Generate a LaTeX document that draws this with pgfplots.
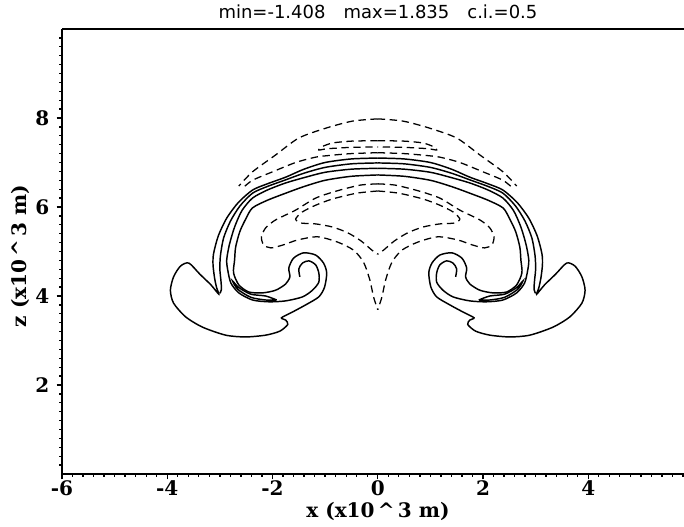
\documentclass[border=0pt]{standalone}
\usepackage{pgfplots}
\pgfplotsset{compat=1.18}
\usepackage{pgfplotstable}
\usepackage{fontspec}
\setmainfont{DejaVu Serif}
\newfontfamily\titlefont{DejaVu Sans}

% right half of each contour (x >= 0); the left half is its mirror image
% dashed: negative levels
\pgfplotstableread{
x z
0 7.98
0.48 7.93
0.99 7.77
1.50 7.55
1.94 7.17
2.38 6.79
2.64 6.47
}\dashA
\pgfplotstableread{
x z
0 7.49
0.5 7.48
0.85 7.44
1.05 7.36
1.12 7.28
0.95 7.31
0.5 7.34
0 7.35
}\dashB
\pgfplotstableread{
x z
0 7.22
0.5 7.20
0.9 7.16
1.18 7.12
1.56 7.00
2.0 6.79
2.38 6.60
2.57 6.42
}\dashC
\pgfplotstableread{
x z
0 6.52
0.34 6.49
0.78 6.36
1.18 6.20
1.56 5.93
1.94 5.71
2.13 5.53
2.21 5.33
2.17 5.15
2.03 5.08
1.79 5.15
1.52 5.26
1.14 5.33
0.76 5.21
0.46 5.03
0.27 4.76
0.15 4.36
0.08 3.98
0 3.69
}\dashD
\pgfplotstableread{
x z
0 6.36
0.40 6.31
0.86 6.18
1.18 6.04
1.43 5.89
1.56 5.73
1.46 5.64
1.18 5.62
0.86 5.55
0.57 5.42
0.32 5.24
0.11 5.03
0 4.94
}\dashE
% solid: positive levels
\pgfplotstableread{
x z
0 7.10
0.5 7.08
1.0 7.00
1.4 6.85
1.75 6.67
2.1 6.52
2.38 6.38
2.65 6.10
2.87 5.75
3.03 5.35
3.12 4.95
3.13 4.70
3.10 4.40
3.06 4.18
3.02 4.04
3.17 4.25
3.38 4.49
3.59 4.74
3.75 4.67
3.88 4.43
3.94 4.13
3.88 3.84
3.65 3.53
3.33 3.30
2.89 3.12
2.51 3.08
2.13 3.12
1.86 3.21
1.71 3.36
1.75 3.46
1.83 3.51
1.62 3.64
1.37 3.80
1.12 3.98
1.01 4.20
0.97 4.52
1.03 4.74
1.18 4.92
1.41 4.97
1.60 4.85
1.69 4.63
1.67 4.43
1.75 4.27
1.94 4.13
2.19 4.07
2.45 4.09
2.64 4.25
2.74 4.52
2.72 4.81
2.70 5.10
2.62 5.45
2.50 5.75
2.38 5.98
2.1 6.15
1.75 6.31
1.4 6.46
1.0 6.60
0.5 6.69
0 6.72
}\solA
\pgfplotstableread{
x z
0 6.87
0.5 6.85
1.0 6.78
1.4 6.66
1.75 6.54
2.1 6.38
2.38 6.20
2.58 5.92
2.72 5.55
2.82 5.15
2.87 4.81
2.85 4.58
2.79 4.29
2.64 4.07
2.38 3.91
2.07 3.87
1.75 3.89
1.43 3.98
1.24 4.13
1.12 4.31
1.12 4.52
1.18 4.70
1.31 4.79
1.43 4.74
1.50 4.61
1.48 4.43
}\solB
\pgfplotstableread{
x z
0 6.99
0.5 6.97
1.0 6.89
1.4 6.76
1.75 6.61
2.1 6.46
2.38 6.31
2.62 6.02
2.80 5.68
2.93 5.30
2.99 4.90
3.00 4.60
2.98 4.35
2.97 4.15
3.00 4.06
}\solC
\pgfplotstableread{
x z
1.92 3.91
2.13 4.00
2.41 4.04
2.64 4.19
2.76 4.34
2.66 4.15
2.41 3.97
2.13 3.91
1.92 3.91
}\solD

\begin{document}
\begin{tikzpicture}
\begin{axis}[
  scale only axis, width=466.5pt, height=333.75pt,
  xmin=-6, xmax=5.82, ymin=0, ymax=10,
  axis x line=bottom, axis y line=left,
  axis line style={-, line width=1.4pt},
  xtick={-6,-4,-2,0,2,4}, ytick={2,4,6,8},
  xticklabels={-6,-4,-2,0,2,4}, yticklabels={2,4,6,8},
  minor xtick={-5.8,-5.6,...,5.8}, minor ytick={0.2,0.4,...,9.8},
  tick align=outside, major tick length=4pt, minor tick length=2pt,
  every tick/.style={black, line width=1pt},
  tick label style={font=\fontsize{15}{17}\selectfont\bfseries},
  xticklabel style={yshift=2.5pt},
  yticklabel style={xshift=-2pt},
  xlabel={x (x10\,\textasciicircum\,3 m)},
  ylabel={z (x10\,\textasciicircum\,3 m)},
  every axis x label/.style={at={(axis description cs:0.508,0)}, anchor=base, yshift=-32.5pt,
    font=\fontsize{15}{17}\selectfont\bfseries},
  every axis y label/.style={at={(axis description cs:-0.066,0.49)}, rotate=90, anchor=center,
    font=\fontsize{15}{17}\selectfont\bfseries},
  title={min=-1.408\quad max=1.835\quad c.i.=0.5},
  every axis title/.style={at={(axis description cs:0.508,1)}, anchor=base, yshift=7.5pt,
    font=\titlefont\fontsize{13.5}{16}\selectfont},
  clip=false,
  cont/.style={black, line width=1.1pt, smooth, tension=0.45},
  neg/.style={black, line width=0.95pt, dash pattern=on 5.5pt off 3.5pt, smooth, tension=0.45},
]
\coordinate (ll) at (rel axis cs:0,0);
\coordinate (ur) at (rel axis cs:1,1);
\draw[line width=1.4pt] (rel axis cs:0,1) -- (rel axis cs:1,1);
\addplot[neg] table {\dashA};
\addplot[neg] table[x expr=-\thisrow{x}] {\dashA};
\addplot[neg] table {\dashB};
\addplot[neg] table[x expr=-\thisrow{x}] {\dashB};
\addplot[neg] table {\dashC};
\addplot[neg] table[x expr=-\thisrow{x}] {\dashC};
\addplot[neg] table {\dashD};
\addplot[neg] table[x expr=-\thisrow{x}] {\dashD};
\addplot[neg] table {\dashE};
\addplot[neg] table[x expr=-\thisrow{x}] {\dashE};
\addplot[cont] table {\solA};
\addplot[cont] table[x expr=-\thisrow{x}] {\solA};
\addplot[cont] table {\solB};
\addplot[cont] table[x expr=-\thisrow{x}] {\solB};
\addplot[cont] table {\solC};
\addplot[cont] table[x expr=-\thisrow{x}] {\solC};
\addplot[cont] table {\solD};
\addplot[cont] table[x expr=-\thisrow{x}] {\solD};
\end{axis}
\pgfresetboundingbox
\path[use as bounding box] ([shift={(-46.5pt,-39.75pt)}]ll) rectangle ([shift={(0pt,21.75pt)}]ur);
\end{tikzpicture}
\end{document}
